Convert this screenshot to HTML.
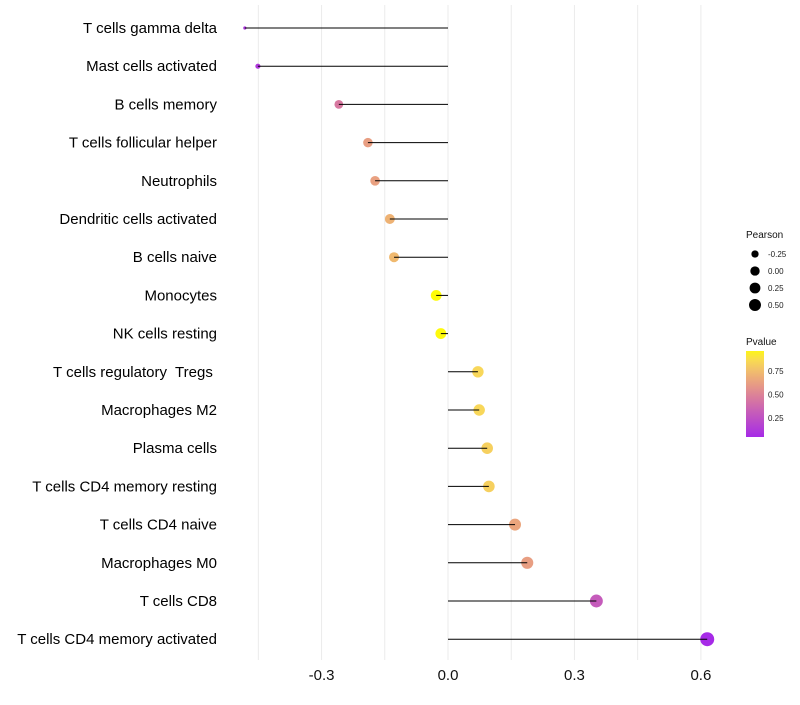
<!DOCTYPE html>
<html><head><meta charset="utf-8"><style>
body{margin:0;background:#fff;font-family:"Liberation Sans",sans-serif}
svg text{font-family:"Liberation Sans",sans-serif;white-space:pre}
</style></head><body>
<svg id="c" width="800" height="700"></svg>
<script>
const categories=["T cells gamma delta","Mast cells activated","B cells memory","T cells follicular helper","Neutrophils","Dendritic cells activated","B cells naive","Monocytes","NK cells resting","T cells regulatory  Tregs ","Macrophages M2","Plasma cells","T cells CD4 memory resting","T cells CD4 naive","Macrophages M0","T cells CD8","T cells CD4 memory activated"];
const pearson=[-0.482,-0.451,-0.259,-0.190,-0.173,-0.138,-0.128,-0.028,-0.017,0.071,0.074,0.093,0.097,0.159,0.188,0.352,0.615];
const pvalue=[0.1,0.12,0.45,0.62,0.63,0.7,0.73,0.99,0.98,0.85,0.85,0.82,0.82,0.65,0.62,0.3,0.05];
const xTicks=[-0.3,0.0,0.3,0.6];
const xTickLabels=["-0.3","0.0","0.3","0.6"];
const sizeLegend=[-0.25,0,0.25,0.5];
const colorLegend=[0.25,0.5,0.75];

const NS="http://www.w3.org/2000/svg";
const svg=document.getElementById('c');
function mk(t,a,p){const e=document.createElementNS(NS,t);for(const k in a)e.setAttribute(k,a[k]);(p||svg).appendChild(e);return e;}
const x=v=>448+v*421.5;
const y=i=>28+i*38.2;
const r=v=>Math.max(1.3,7*Math.pow(Math.max(0.001,(v+0.49)/1.105),0.3));
const stops=[[0,[160,32,240]],[0.45,[215,120,160]],[0.65,[235,165,125]],[0.85,[248,215,90]],[1,[255,255,0]]];
function col(p){p=Math.max(0,Math.min(1,p));for(let i=0;i<stops.length-1;i++){const a=stops[i],b=stops[i+1];if(p<=b[0]){const t=(p-a[0])/(b[0]-a[0]);const c=a[1].map((v,j)=>Math.round(v+(b[1][j]-v)*t));return `rgb(${c[0]},${c[1]},${c[2]})`;}}return 'rgb(255,255,0)';}
for(let g=-0.45;g<=0.61;g+=0.15){const l=mk('line',{x1:x(g),x2:x(g),y1:5,y2:660,stroke:'#ebebeb','stroke-width':1});

}
xTicks.forEach((t,i)=>{const e=mk('text',{x:x(t),y:680,'text-anchor':'middle','font-size':15,fill:'#111'});e.textContent=xTickLabels[i];

});
categories.forEach((c,i)=>{
const lb=mk('text',{x:217,y:y(i)+5,'text-anchor':'end','font-size':15,fill:'#000'});lb.textContent=c;


const pt=mk('circle',{cx:x(pearson[i]),cy:y(i),r:r(pearson[i]),fill:col(pvalue[i])});


const ln=mk('line',{x1:x(0),x2:x(pearson[i]),y1:y(i),y2:y(i),stroke:'#000','stroke-width':1});


});
let t=mk('text',{x:746,y:238,'font-size':10,fill:'#111'});t.textContent='Pearson';


sizeLegend.forEach((v,i)=>{const cy=254+i*17;const c=mk('circle',{cx:755,cy:cy,r:r(v)-0.8,fill:'#000'});


const tx=mk('text',{x:768,y:cy+3,'font-size':8,fill:'#222'});tx.textContent=v.toFixed(2);

});
t=mk('text',{x:746,y:345,'font-size':10,fill:'#111'});t.textContent='Pvalue';


const defs=mk('defs',{});const gr=mk('linearGradient',{id:'g',x1:0,y1:1,x2:0,y2:0},defs);
for(let k=0;k<=10;k++){const p=0.05+k/10*0.91;mk('stop',{offset:k/10,'stop-color':col(p)},gr);}
const bar=mk('rect',{x:746,y:351,width:18,height:86,fill:'url(#g)'});


colorLegend.forEach(v=>{const cy=351+(0.96-v)/0.91*86;
const tx=mk('text',{x:768,y:cy+3,'font-size':8,fill:'#222'});tx.textContent=v.toFixed(2);

});
</script>
</body></html>
